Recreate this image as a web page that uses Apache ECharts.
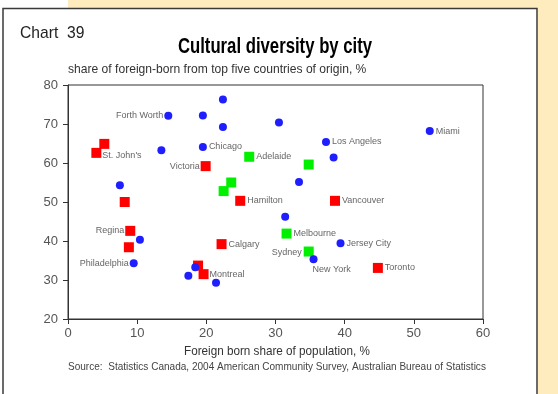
<!DOCTYPE html>
<html>
<head>
<meta charset="utf-8">
<script src="https://cdn.jsdelivr.net/npm/echarts@6/dist/echarts.min.js"></script>
<style>
  html, body { margin: 0; padding: 0; background: #ffffff; }
  #chart { width: 558px; height: 394px; }
</style>
</head>
<body>
<div id="chart"></div>
<script>
// US cities: foreign-born share of population (%) vs share from top five origin countries (%)
const usX = [22.4, 14.5, 19.5, 22.4, 30.5, 52.3, 13.5, 19.5, 37.3, 38.4, 33.4, 7.5, 31.4, 10.4, 39.4, 9.5, 18.4, 17.4, 21.4, 35.5];
const usY = [76.3, 72.1, 72.2, 69.2, 70.4, 68.2, 63.3, 64.1, 65.4, 61.4, 55.1, 54.3, 46.2, 40.3, 39.4, 34.3, 33.3, 31.1, 29.3, 35.3];
const usNames = ['', 'Forth Worth', '', '', '', 'Miami', '', 'Chicago', 'Los Angeles', '', '', '', '', '', 'Jersey City', 'Philadelphia', '', '', '', 'New York'];

// Canadian cities
const caX = [5.25, 4.1, 19.9, 8.2, 24.9, 38.6, 9.0, 8.8, 18.8, 19.6, 22.2, 44.8];
const caY = [64.9, 62.6, 59.2, 50.0, 50.3, 50.3, 42.6, 38.4, 33.7, 31.5, 39.2, 33.1];
const caNames = ['', "St. John's", 'Victoria', '', 'Hamilton', 'Vancouver', 'Regina', '', '', 'Montreal', 'Calgary', 'Toronto'];

// Australian cities
const auX = [26.2, 34.8, 23.6, 22.5, 31.6, 34.8];
const auY = [61.6, 59.6, 55.0, 52.8, 41.9, 37.3];
const auNames = ['Adelaide', '', '', '', 'Melbourne', 'Sydney'];

const xTicks = [0, 10, 20, 30, 40, 50, 60];
const yTicks = [20, 30, 40, 50, 60, 70, 80];

// label placement per city (defaults to the right of the marker)
const labelPlacement = {
  'Forth Worth': { position: 'left', distance: 1 },
  'Victoria': { position: 'left', distance: 1 },
  'Regina': { position: 'left', distance: 1 },
  'Philadelphia': { position: 'left', distance: 1 },
  'Sydney': { position: 'left', distance: 2, offset: [0, 1] },
  "St. John's": { position: 'right', distance: 1, offset: [0, 3] },
  'New York': { position: 'right', distance: 1, offset: [-6, 10] },
  'Montreal': { position: 'right', distance: 1, offset: [0, 0] }
};

const font = "'Liberation Sans', Arial, sans-serif";

function buildPoints(xs, ys, names) {
  return xs.map((x, i) => {
    const name = names[i];
    const item = { value: [x, ys[i]], name: name };
    if (name) {
      const p = labelPlacement[name] || { position: 'right', distance: 2 };
      item.label = Object.assign({ show: true, formatter: name }, p);
    }
    return item;
  });
}

const labelStyle = {
  show: false,
  color: '#666666',
  fontFamily: font,
  fontSize: 9,
  position: 'right',
  distance: 2
};

// condensed text: horizontal squeeze about the anchor point
function squeezedText(x, y, text, size, scale, opts) {
  return {
    type: 'text', x: x, y: y, scaleX: scale, scaleY: 1,
    style: Object.assign({
      text: text, fontFamily: font, fontSize: size, fill: '#333',
      align: 'left', verticalAlign: 'middle',
      textAlign: 'left', textVerticalAlign: 'middle'
    }, opts || {})
  };
}

const chart = echarts.init(document.getElementById('chart'), null, { renderer: 'canvas' });

chart.setOption({
  backgroundColor: '#ffffff',
  animation: false,
  graphic: [
    { type: 'rect', shape: { x: 68, y: 0, width: 490, height: 8 }, style: { fill: '#FFECBE' }, z: 0 },
    { type: 'rect', shape: { x: 538, y: 0, width: 20, height: 394 }, style: { fill: '#FFECBE' }, z: 0 },
    { type: 'rect', shape: { x: 3, y: 8.5, width: 534, height: 400 }, style: { fill: 'none', stroke: '#3a3a3a', lineWidth: 1.5 }, z: 1 },
    squeezedText(20, 33, 'Chart  39', 17, 0.92, { fill: '#222' }),
    squeezedText(275, 47, 'Cultural diversity by city', 22, 0.76,
      { fill: '#000', fontWeight: 'bold', align: 'center', textAlign: 'center' }),
    squeezedText(68, 69, 'share of foreign-born from top five countries of origin, %', 13, 0.93, { fill: '#333' }),
    squeezedText(277, 351, 'Foreign born share of population, %', 13, 0.9,
      { fill: '#333', align: 'center', textAlign: 'center' }),
    squeezedText(68, 367, 'Source:  Statistics Canada, 2004 American Community Survey, Australian Bureau of Statistics', 11, 0.913, { fill: '#444' })
  ],
  grid: {
    left: 68, top: 85, width: 415, height: 234,
    show: true, borderColor: '#333', borderWidth: 1, backgroundColor: 'transparent'
  },
  xAxis: {
    type: 'value', min: xTicks[0], max: xTicks[xTicks.length - 1], interval: 10,
    axisLine: { show: true, lineStyle: { color: '#333', width: 1 } },
    axisTick: { show: true, inside: false, length: 5, lineStyle: { color: '#333' } },
    axisLabel: { fontFamily: font, fontSize: 13, color: '#555', margin: 8 },
    splitLine: { show: false }
  },
  yAxis: {
    type: 'value', min: yTicks[0], max: yTicks[yTicks.length - 1], interval: 10,
    axisLine: { show: true, lineStyle: { color: '#333', width: 1 } },
    axisTick: { show: true, inside: false, length: 5, lineStyle: { color: '#333' } },
    axisLabel: { fontFamily: font, fontSize: 13, color: '#555', margin: 10 },
    splitLine: { show: false }
  },
  series: [
    {
      name: 'Canada', type: 'scatter', symbol: 'rect', symbolSize: 10,
      itemStyle: { color: '#FF0000', opacity: 1 },
      label: labelStyle,
      data: buildPoints(caX, caY, caNames), z: 3
    },
    {
      name: 'Australia', type: 'scatter', symbol: 'rect', symbolSize: 10,
      itemStyle: { color: '#00F000', opacity: 1 },
      label: labelStyle,
      data: buildPoints(auX, auY, auNames), z: 4
    },
    {
      name: 'United States', type: 'scatter', symbol: 'circle', symbolSize: 8,
      itemStyle: { color: '#1E1EFF', opacity: 1 },
      label: labelStyle,
      data: buildPoints(usX, usY, usNames), z: 5
    }
  ]
});
</script>
</body>
</html>
